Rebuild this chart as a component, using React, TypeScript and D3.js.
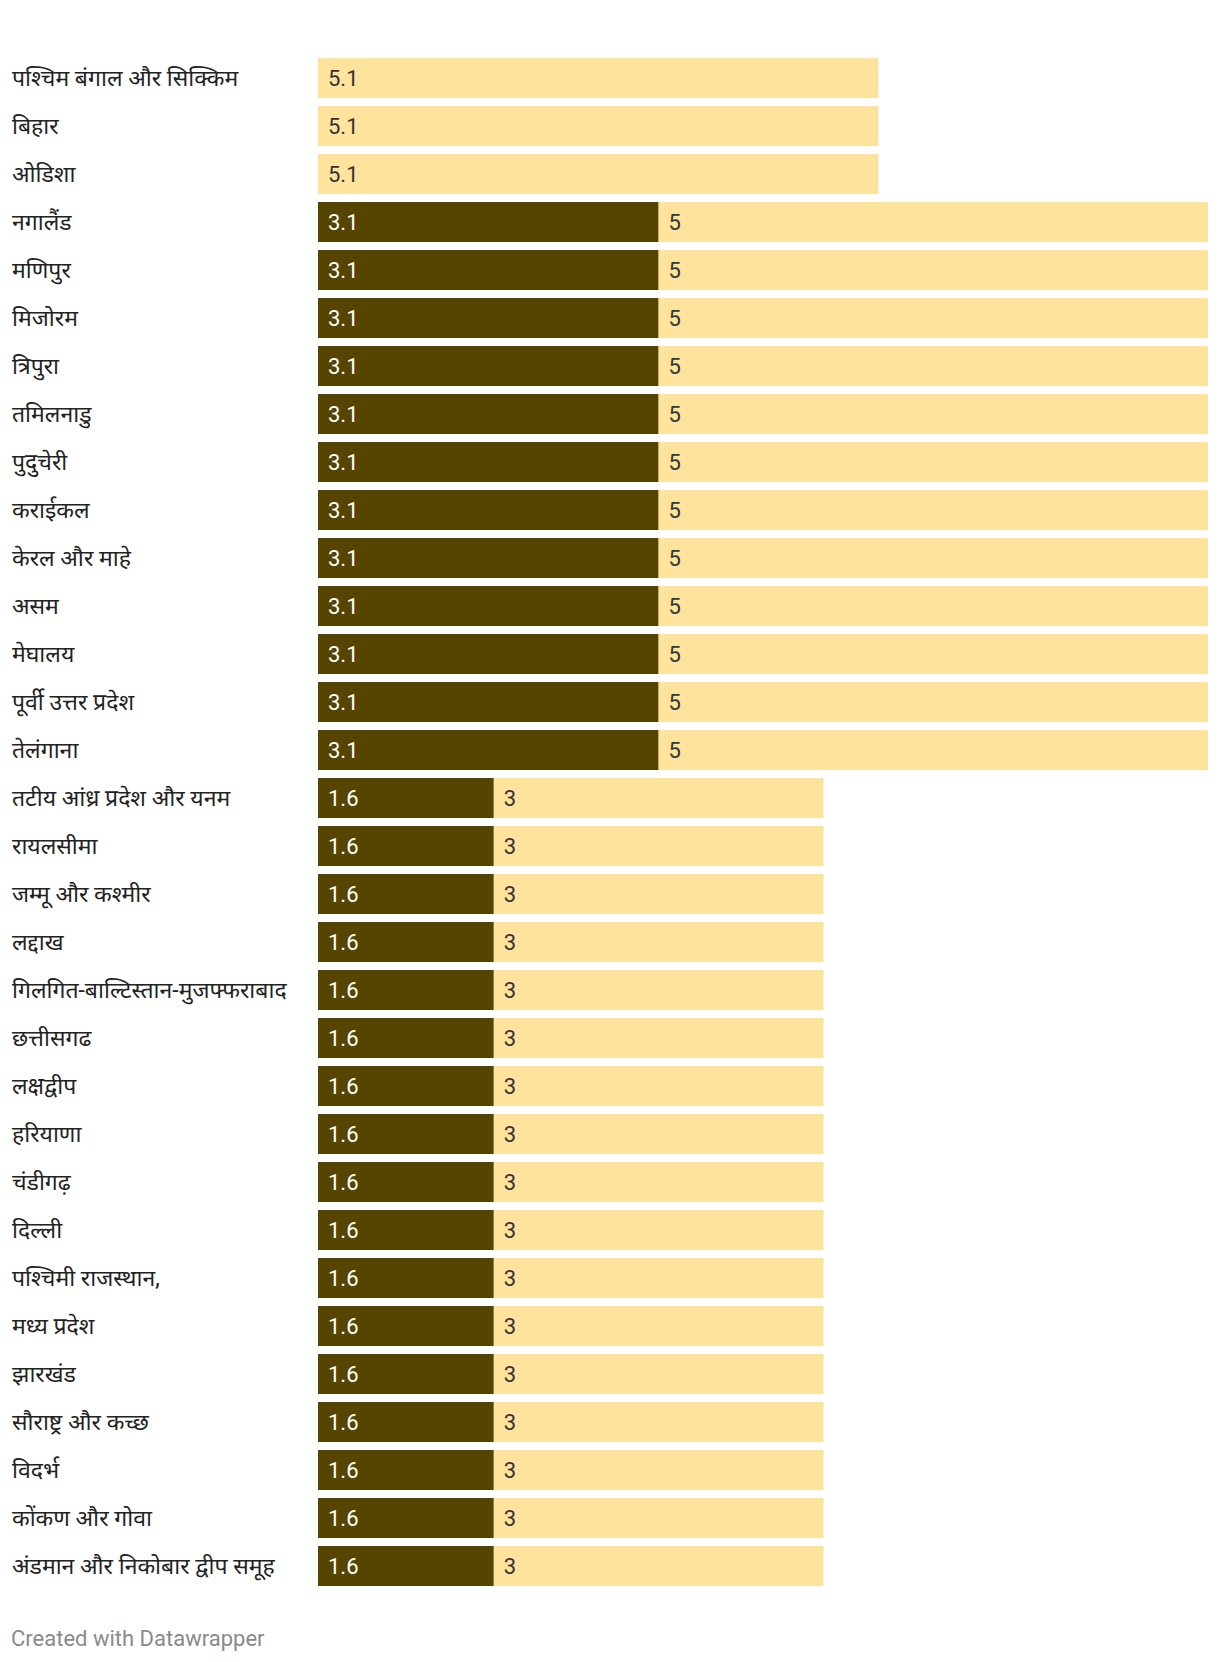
import React from "react";
import * as d3 from "d3";

const categories = [
  "पश्चिम बंगाल और सिक्किम",
  "बिहार",
  "ओडिशा",
  "नगालैंड",
  "मणिपुर",
  "मिजोरम",
  "त्रिपुरा",
  "तमिलनाडु",
  "पुदुचेरी",
  "कराईकल",
  "केरल और माहे",
  "असम",
  "मेघालय",
  "पूर्वी उत्तर प्रदेश",
  "तेलंगाना",
  "तटीय आंध्र प्रदेश और यनम",
  "रायलसीमा",
  "जम्मू और कश्मीर",
  "लद्दाख",
  "गिलगित-बाल्टिस्तान-मुजफ्फराबाद",
  "छत्तीसगढ",
  "लक्षद्वीप",
  "हरियाणा",
  "चंडीगढ़",
  "दिल्ली",
  "पश्चिमी राजस्थान,",
  "मध्य प्रदेश",
  "झारखंड",
  "सौराष्ट्र और कच्छ",
  "विदर्भ",
  "कोंकण और गोवा",
  "अंडमान और निकोबार द्वीप समूह",
];

const darkValues = [
  0, 0, 0,
  3.1, 3.1, 3.1, 3.1, 3.1, 3.1, 3.1, 3.1, 3.1, 3.1, 3.1, 3.1,
  1.6, 1.6, 1.6, 1.6, 1.6, 1.6, 1.6, 1.6, 1.6, 1.6, 1.6, 1.6, 1.6, 1.6, 1.6, 1.6, 1.6,
];

const lightValues = [
  5.1, 5.1, 5.1,
  5, 5, 5, 5, 5, 5, 5, 5, 5, 5, 5, 5,
  3, 3, 3, 3, 3, 3, 3, 3, 3, 3, 3, 3, 3, 3, 3, 3, 3,
];

const footerText = "Created with Datawrapper";

const DARK = "#564500";
const LIGHT = "#fee39c";
const FONT = "Roboto, 'Noto Sans', sans-serif";

export default function App() {
  const W = 1220;
  const H = 1662;
  const x = d3.scaleLinear().domain([0, 8.1]).range([318, 1208]);
  const y = d3
    .scaleBand<number>()
    .domain(d3.range(categories.length))
    .range([58 - 4, 58 - 4 + 48 * categories.length])
    .paddingInner(8 / 48)
    .paddingOuter(4 / 48);
  const fmt = (v: number) => String(v);

  return (
    <svg
      width={W}
      height={H}
      style={{ position: "absolute", left: 0, top: 0, display: "block", background: "#fff" }}
      fontFamily={FONT}
    >
      {categories.map((c, i) => {
        const top = y(i)!;
        const bh = y.bandwidth();
        const d = darkValues[i];
        const l = lightValues[i];
        const x0 = x(0);
        const xd = x(d);
        const xl = x(d + l);
        const base = top + bh / 2 + 8;
        return (
          <g key={i}>
            <text x={12} y={base} fontSize={23} fill="#222">
              {c}
            </text>
            {d > 0 && <rect x={x0} y={top} width={xd - x0} height={bh} fill={DARK} />}
            <rect x={xd} y={top} width={xl - xd} height={bh} fill={LIGHT} />
            {d > 0 && (
              <text x={x0 + 10} y={base} fontSize={22} fill="#ffffff">
                {fmt(d)}
              </text>
            )}
            <text x={xd + 10} y={base} fontSize={22} fill="#333333">
              {fmt(l)}
            </text>
          </g>
        );
      })}
      <text x={11} y={1645.5} fontSize={22} fill="#8a8a8a">
        {footerText}
      </text>
    </svg>
  );
}
